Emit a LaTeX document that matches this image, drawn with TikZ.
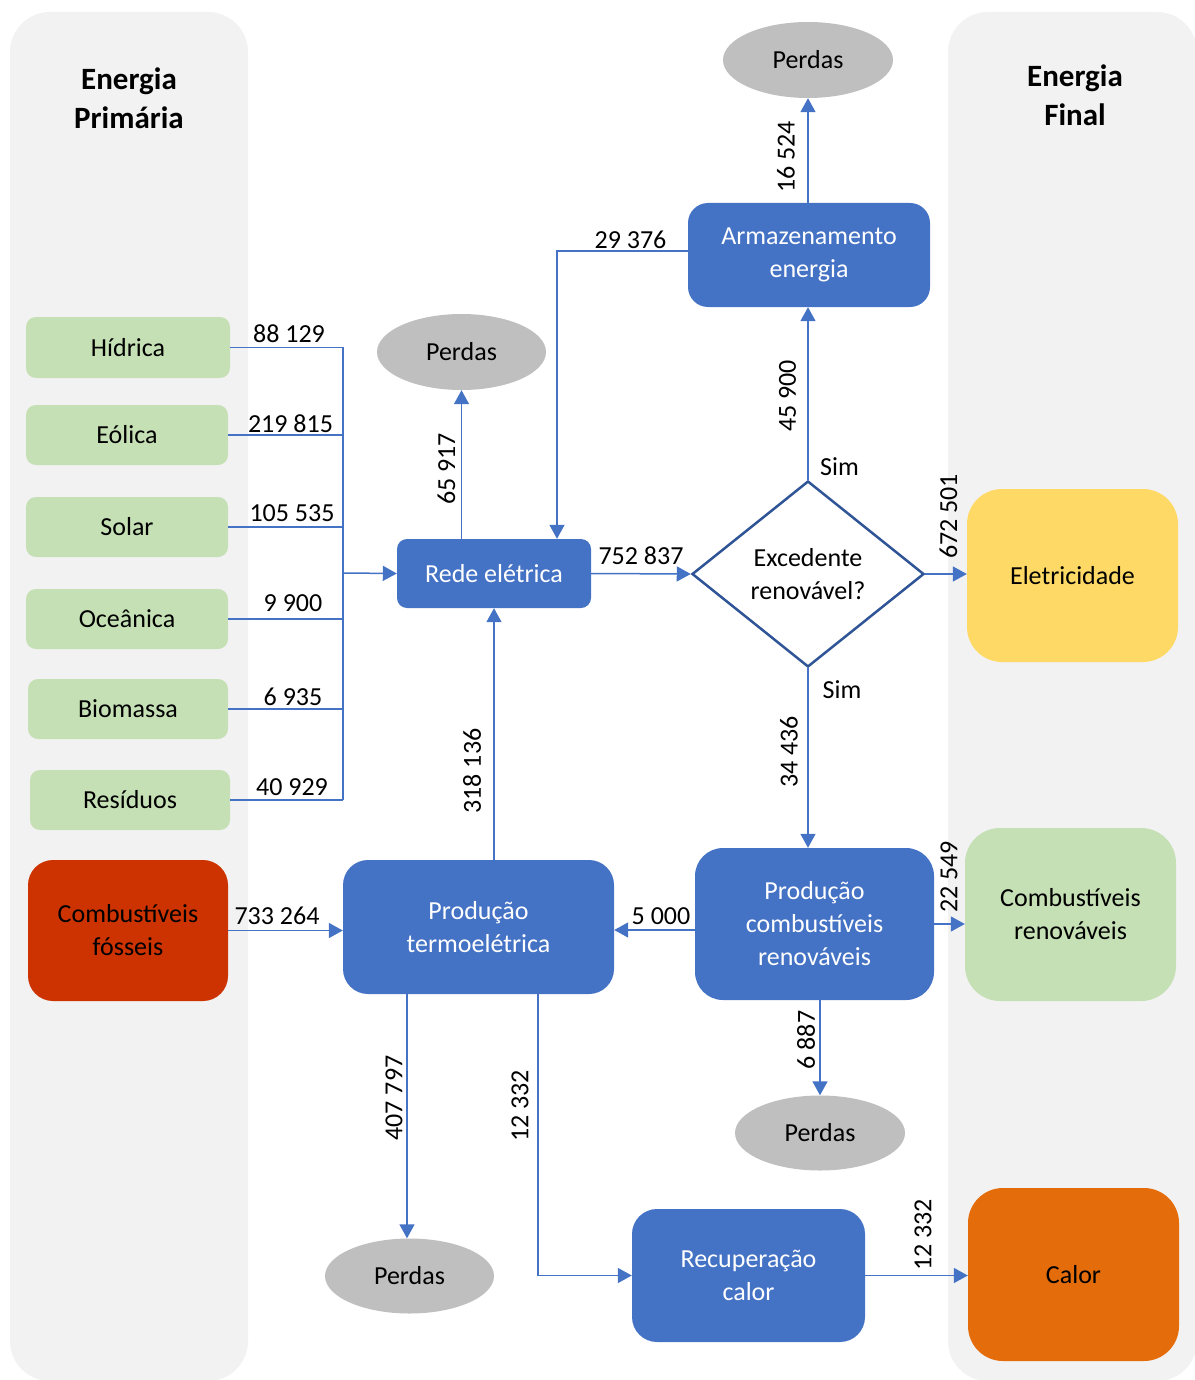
\documentclass[tikz,border=0pt]{standalone}
\usepackage{fontspec}
\setmainfont{Carlito}
\usetikzlibrary{shapes.geometric,arrows.meta,calc}
\definecolor{panelc}{HTML}{F2F2F2}
\definecolor{greenc}{HTML}{C5E0B4}
\definecolor{bluec}{HTML}{4472C4}
\definecolor{linec}{HTML}{4472C4}
\definecolor{diac}{HTML}{2F5597}
\definecolor{grayc}{HTML}{BFBFBF}
\definecolor{yellowc}{HTML}{FFD966}
\definecolor{redc}{HTML}{CC3300}
\definecolor{orangec}{HTML}{E46C0A}
\tikzset{
  txt/.style={font=\fontsize{26}{33}\selectfont},
  box/.style={txt, rectangle, align=center, inner sep=0pt},
  srcbox/.style={box, fill=greenc, rounded corners=10pt},
  procbox/.style={box, fill=bluec, text=white},
  finalbox/.style={box, rounded corners=35pt},
  loss/.style={txt, ellipse, fill=grayc, inner sep=0pt},
  lbl/.style={txt, inner sep=0pt},
  vlbl/.style={lbl, rotate=90},
  conn/.style={draw=linec, line width=1.5pt},
  arr/.style={conn, -{Triangle[length=14pt,width=15pt]}},
  header/.style={font=\fontsize{31}{39}\selectfont\bfseries, align=center, inner sep=0pt}
}
\begin{document}
\begin{tikzpicture}[x=1pt,y=-1pt]
\useasboundingbox (0,0) rectangle (1194,1380);
% panels
\fill[panelc, rounded corners=40pt] (10,12) rectangle (248,1381);
\fill[panelc, rounded corners=40pt] (948,12) rectangle (1197,1381);
\node[header] (hp) at (129,98) {Energia\\Primária};
\node[header] (hf) at (1075,95) {Energia\\Final};

% sources
\node[srcbox, minimum width=204pt, minimum height=61pt] (hid) at (128,347.5) {Hídrica};
\node[srcbox, minimum width=202pt, minimum height=60pt] (eol) at (127,435) {Eólica};
\node[srcbox, minimum width=202pt, minimum height=60pt] (sol) at (127,527) {Solar};
\node[srcbox, minimum width=202pt, minimum height=60pt] (oce) at (127,619) {Oceânica};
\node[srcbox, minimum width=200pt, minimum height=60pt] (bio) at (128,709) {Biomassa};
\node[srcbox, minimum width=200pt, minimum height=60pt] (res) at (130,800) {Resíduos};
\node[box, fill=redc, rounded corners=25pt, minimum width=200pt, minimum height=141pt] (fos) at (128,930.5) {Combustíveis\\fósseis};

% processes
\node[procbox, rounded corners=10pt, minimum width=194pt, minimum height=69pt] (rede) at (494,573.5) {Rede elétrica};
\node[procbox, rounded corners=20pt, minimum width=242pt, minimum height=104pt] (arm) at (809,255) {Armazenamento\\energia};
\node[txt, diamond, draw=diac, line width=2.5pt, fill=white, align=center, inner sep=0pt, minimum width=232pt, minimum height=186pt] (dia) at (808,574) {Excedente\\renovável?};
\node[procbox, rounded corners=28pt, minimum width=239pt, minimum height=152pt] (pc) at (814.5,924) {Produção\\combustíveis\\renováveis};
\node[procbox, rounded corners=25pt, minimum width=271pt, minimum height=134pt] (tp) at (478.5,927) {Produção\\termoelétrica};
\node[procbox, rounded corners=25pt, minimum width=233pt, minimum height=133pt] (rc) at (748.5,1275.5) {Recuperação\\calor};

% finals
\node[finalbox, fill=yellowc, minimum width=211pt, minimum height=173pt] (ele) at (1072.5,575.5) {Eletricidade};
\node[finalbox, fill=greenc, minimum width=211pt, minimum height=173pt] (cr) at (1070.5,914.5) {Combustíveis\\renováveis};
\node[finalbox, fill=orangec, minimum width=211pt, minimum height=173pt] (cal) at (1073.5,1274.5) {Calor};

% losses
\node[loss, minimum width=169pt, minimum height=76pt] (p1) at (461.5,352) {Perdas};
\node[loss, minimum width=170pt, minimum height=76pt] (p2) at (808,60) {Perdas};
\node[loss, minimum width=170pt, minimum height=75pt] (p3) at (820,1133) {Perdas};
\node[loss, minimum width=169pt, minimum height=75pt] (p4) at (409.5,1276) {Perdas};

% helper coordinates
\coordinate (bus) at (343,573);
\coordinate (c557) at (557,0);
\coordinate (c538) at (538,0);
\coordinate (c407) at (407,0);
\coordinate (y930) at (0,930);

% bus
\draw[conn] (hid.east) -- (hid.east -| bus) -- (res.east -| bus);
\draw[conn] (eol.east) -- (eol.east -| bus);
\draw[conn] (sol.east) -- (sol.east -| bus);
\draw[conn] (oce.east) -- (oce.east -| bus);
\draw[conn] (bio.east) -- (bio.east -| bus);
\draw[conn] (res.east) -- (res.east -| bus);
\draw[arr] (bus) -- (rede.west);

% rede connections
\draw[arr] (p1.south |- rede.north) -- (p1.south);
\draw[arr] ([yshift=4pt]arm.west) -| (c557 |- rede.north);
\draw[arr] (rede.east) -- (dia.west);
\draw[arr] (dia.north) -- (dia.north |- arm.south);
\draw[arr] (dia.north |- arm.north) -- (p2.south);
\draw[arr] (dia.east) -- (dia.east -| ele.west);
\draw[arr] (dia.south) -- (dia.south |- pc.north);
\draw[arr] (pc.west |- y930) -- (tp.east |- y930);
\draw[arr] (pc.east) -- (pc.east -| cr.west);
\draw[arr] (p3.north |- pc.south) -- (p3.north);
\draw[arr] (fos.east) -- (fos.east -| tp.west);
\draw[arr] (rede.south |- tp.north) -- (rede.south);
\draw[arr] (c407 |- tp.south) -- (c407 |- p4.north);
\draw[arr] (c538 |- tp.south) |- (rc.west);
\draw[arr] (rc.east) -- (rc.east -| cal.west);

% labels
\node[lbl] (l1) at (289,333.5) {88 129};
\node[lbl] (l2) at (290.5,423.5) {219 815};
\node[lbl] (l3) at (292,513.5) {105 535};
\node[lbl] (l4) at (293,603.5) {9 900};
\node[lbl] (l5) at (293,697) {6 935};
\node[lbl] (l6) at (292,787) {40 929};
\node[vlbl] (l7) at (446.5,469) {65 917};
\node[lbl] (l8) at (641,556) {752 837};
\node[lbl] (l9) at (630.5,240) {29 376};
\node[vlbl] (l10) at (787.5,396) {45 900};
\node[lbl] (s1) at (839.5,466.5) {Sim};
\node[vlbl] (l11) at (948.5,516.5) {672 501};
\node[lbl] (s2) at (842,690) {Sim};
\node[vlbl] (l12) at (789,752) {34 436};
\node[vlbl] (l13) at (786,157) {16 524};
\node[vlbl] (l14) at (949,877) {22 549};
\node[lbl] (l15) at (661,916) {5 000};
\node[lbl] (l16) at (277,916) {733 264};
\node[vlbl] (l17) at (472,771) {318 136};
\node[vlbl] (l18) at (806,1040) {6 887};
\node[vlbl] (l19) at (394,1098) {407 797};
\node[vlbl] (l20) at (520,1106) {12 332};
\node[vlbl] (l21) at (923,1235) {12 332};
\end{tikzpicture}
\end{document}
